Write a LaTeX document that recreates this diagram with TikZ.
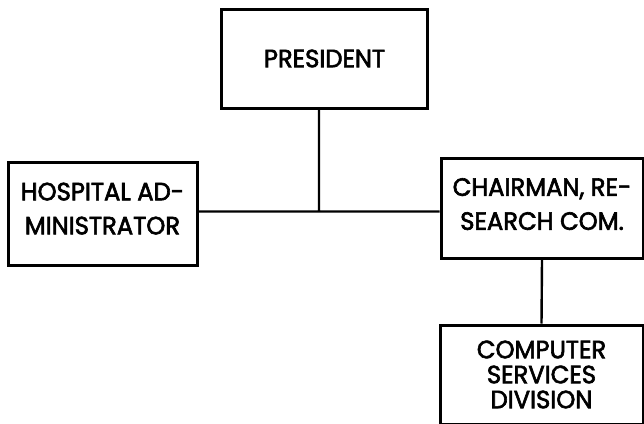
\documentclass[tikz,border=0pt]{standalone}
\usepackage{fontspec}
\setmainfont{Poppins}
\newfontfamily\chartfont{Poppins}[FakeBold=2.5, FakeStretch=0.97]
\usetikzlibrary{positioning}

\begin{document}
\begin{tikzpicture}[x=1pt, y=-1pt, thick]
  \tikzstyle{post}=[rectangle, draw=black, line width=3pt, align=center, inner sep=0pt, text=black]
  \tikzstyle{wide}=[font=\fontsize{25}{34}\chartfont]
  \tikzstyle{tight}=[font=\fontsize{25}{25}\chartfont]
  \tikzstyle{link}=[line width=2.4pt]

	\useasboundingbox (0,0) rectangle (644,423);

	\node[post, wide, minimum width=206pt, minimum height=99pt]  (President) at (324.5,58.5) {PRESIDENT};
	\node[post, wide, text depth=10pt, minimum width=189pt, minimum height=103pt] (Hospital)  at (102.5,213.5) {HOSPITAL AD-\\MINISTRATOR};
	\node[post, wide, text depth=8pt, minimum width=202pt, minimum height=100pt] (Chairman)  at (542,208) {CHAIRMAN, RE-\\SEARCH COM.};
	\node[post, tight, minimum width=203pt, minimum height=99pt] (Computer)  at (541.5,374.5) {COMPUTER\\SERVICES\\DIVISION};

	\coordinate (J) at (319,211.5);

	\path[link, draw]
		(President.south -| J) -- (J)
		(Hospital.east |- J) -- (Chairman.west |- J)
		(Chairman.south) -- (Computer.north)
		;

\end{tikzpicture}
\end{document}
